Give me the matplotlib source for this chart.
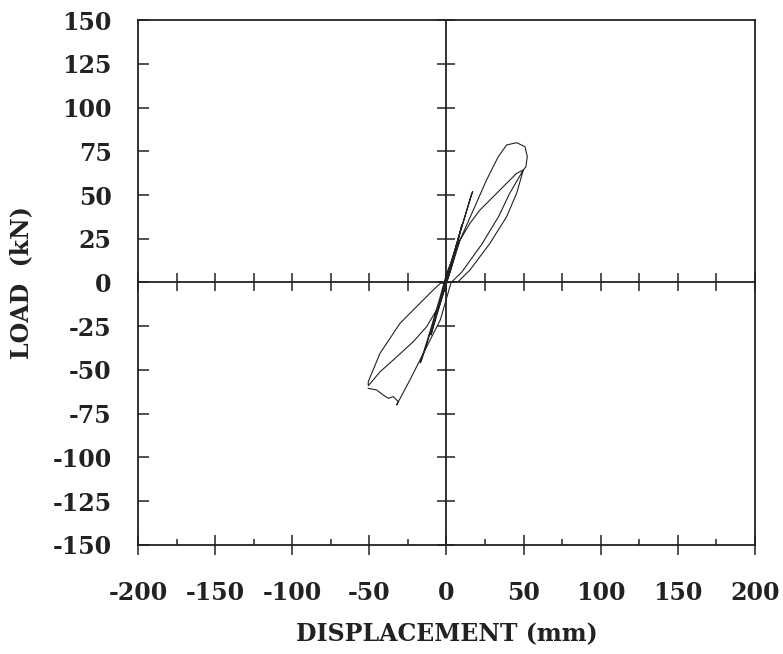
import matplotlib
matplotlib.use('Agg')
import matplotlib.pyplot as plt
from matplotlib.ticker import MultipleLocator

# hysteresis path (mm, kN)
disp = [0, 3, 6, 3, 0, -3, -6, -3, 0, 5, 10, 6, 0, -5, -10, -6, 0, 8, 16, 17, 10, 0,
        -8, -16, -17, -10, -4,
        0, 8.8, 17.4, 26, 30.3, 33.6, 39, 45.5, 50.9, 52.4, 51.5, 49.8,
        45.5, 39, 28.2, 15.2, 7.6, 2, -4, -8.6, -17.2, -30.1, -43.1, -50.7, -50.7,
        -43, -34.5, -21.5, -12.8, -6.4, -2, 2, 8.8, 15.2, 21.7, 30.3, 39, 45.5, 49.8,
        41, 34, 23, 10, 3, -4, -12.8, -23.7, -32.3,
        -31.2, -34.5, -37.7, -41, -45.3, -50.7]
load = [0, 9, 18, 8, 0, -9, -17, -7, 2, 17, 33, 18, 0, -15, -30, -16, 0, 26, 50, 52, 32, 3,
        -22, -44, -46, -26, -8,
        5, 24.3, 41.4, 58.6, 66.2, 71.9, 78.6, 79.9, 77.6, 71.9, 66.2, 64.3,
        51, 37.6, 22.4, 7.1, 0.5, 0, -0.5, -4.3, -11.9, -23.3, -40.5, -56.7, -59,
        -51, -44.3, -33.8, -25.2, -15.7, -6, 5, 24.3, 33.8, 41.4, 49, 56.7, 62.4, 64.3,
        51, 38, 22, 6, 0, -21.4, -36.7, -55.7, -70,
        -68.1, -65.2, -66.2, -64.3, -61.4, -60.5]

x_ticks = [-200, -150, -100, -50, 0, 50, 100, 150, 200]
y_ticks = [-150, -125, -100, -75, -50, -25, 0, 25, 50, 75, 100, 125, 150]

ink = '#222222'
plt.rcParams['font.family'] = ['DejaVu Serif']
plt.rcParams['font.weight'] = 'bold'

fig = plt.figure(figsize=(7.83, 6.54), dpi=100)
ax = fig.add_axes([0.1762, 0.1667, 0.788, 0.8027])
ax.plot(disp, load, color=ink, lw=0.8)
ax.set_xlim(-200, 200)
ax.set_ylim(-150, 150)
ax.set_xticks(x_ticks)
ax.set_yticks(y_ticks)
ax.set_xticklabels([str(v) for v in x_ticks])
ax.set_yticklabels([str(v) for v in y_ticks])
ax.xaxis.set_minor_locator(MultipleLocator(25))
ax.tick_params(axis='y', direction='in', length=8, width=1.1, color=ink,
               labelsize=17, pad=19, labelcolor=ink)
ax.tick_params(axis='x', which='major', direction='inout', length=14, width=1.1,
               color=ink, labelsize=17, pad=19, labelcolor=ink)
ax.tick_params(axis='x', which='minor', direction='in', length=4, width=1.1, color=ink)
for s in ax.spines.values():
    s.set_linewidth(1.3)
    s.set_color(ink)
ax.set_xlabel('DISPLACEMENT (mm)', fontsize=17, fontweight='bold', color=ink, labelpad=12)
ax.set_ylabel('LOAD  (kN)', fontsize=17, fontweight='bold', color=ink, labelpad=14)

# centre axes through the origin
ax2 = fig.add_axes(ax.get_position(), frameon=True)
ax2.patch.set_visible(False)
ax2.set_xlim(-200, 200)
ax2.set_ylim(-150, 150)
ax2.spines['left'].set_position(('data', 0))
ax2.spines['bottom'].set_position(('data', 0))
ax2.spines['top'].set_visible(False)
ax2.spines['right'].set_visible(False)
for s in ('left', 'bottom'):
    ax2.spines[s].set_linewidth(1.3)
    ax2.spines[s].set_color(ink)
ax2.xaxis.set_major_locator(MultipleLocator(25))
ax2.yaxis.set_major_locator(MultipleLocator(25))
ax2.tick_params(direction='inout', length=13, width=1.1, color=ink,
                labelbottom=False, labelleft=False)

fig.savefig('out.png', dpi=100)
